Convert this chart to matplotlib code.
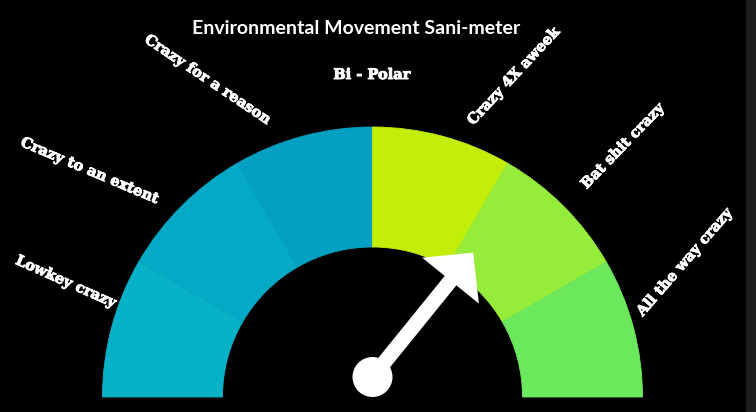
import numpy as np
import matplotlib.pyplot as plt
import matplotlib.patheffects as pe
from matplotlib.patches import Wedge, Circle, Rectangle, FancyArrow


categorias = ['Lowkey crazy', 'Crazy to an extent', 'Crazy for a reason',
              'Crazy 4X aweek', 'Bat shit crazy', 'All the way crazy']
tramos = [1, 1, 1, 1, 1, 1]
colores = ['#07b2c8', '#04a9c6', '#04a0c1', '#c3ee0a', '#95ec3b', '#6ce85c']
aguja = 4.3  # posicion de la aguja en unidades de tramo
titulo = 'Environmental Movement Sani-meter'
subtitulo = 'Bi - Polar'

# posiciones de las etiquetas (px) y rotacion
etq_pos = [(66, 282), (90, 171), (208, 80), (514, 76), (623, 146), (685, 262)]
etq_rot = [-24, -23, -34, 47, 46, 49]


fig = plt.figure(figsize=(7.56, 4.12), dpi=100, facecolor='black')
ax = fig.add_axes([0, 0, 1, 1])
ax.set_xlim(0, 756)
ax.set_ylim(0, 412)
ax.set_aspect('equal')
ax.axis('off')
ax.set_facecolor('black')

cx, cy = 372.5, 412 - 397
r_ext, r_int = 270, 150

total = sum(tramos)
acum = 0
for t, c in zip(tramos, colores):
    a1 = 180 - acum / total * 180
    a0 = 180 - (acum + t) / total * 180
    ax.add_patch(Wedge((cx, cy), r_ext, a0, a1, width=r_ext - r_int,
                       facecolor=c, edgecolor=c, lw=0.6))
    acum += t

# aguja
ang = np.radians(180 - aguja / total * 180)
px, py = cx, cy + 20
largo = 160
ax.add_patch(FancyArrow(px, py, largo * np.cos(ang), largo * np.sin(ang),
                        width=15, head_width=73, head_length=36,
                        length_includes_head=True, color='white', lw=0))
ax.add_patch(Circle((px, py), 20, color='white', lw=0))

# franja gris a la derecha
ax.add_patch(Rectangle((746, 0), 10, 412, facecolor='#1d1d1f', edgecolor='none'))

grueso = [pe.withStroke(linewidth=0.7, foreground='white')]
for nombre, (x, y), rot in zip(categorias, etq_pos, etq_rot):
    ax.text(x, 412 - y, nombre, rotation=rot, rotation_mode='anchor',
            ha='center', va='center', color='white', fontsize=10.5,
            fontweight='bold', family='DejaVu Serif', path_effects=grueso)

ax.text(356, 412 - 28, titulo, ha='center', va='center', color='white',
        fontsize=14, fontweight='bold', family='Lato')
ax.text(372, 412 - 75, subtitulo, ha='center', va='center', color='white',
        fontsize=10.5, fontweight='bold', family='DejaVu Serif',
        path_effects=grueso)

plt.savefig('out.png', dpi=100, facecolor='black')
